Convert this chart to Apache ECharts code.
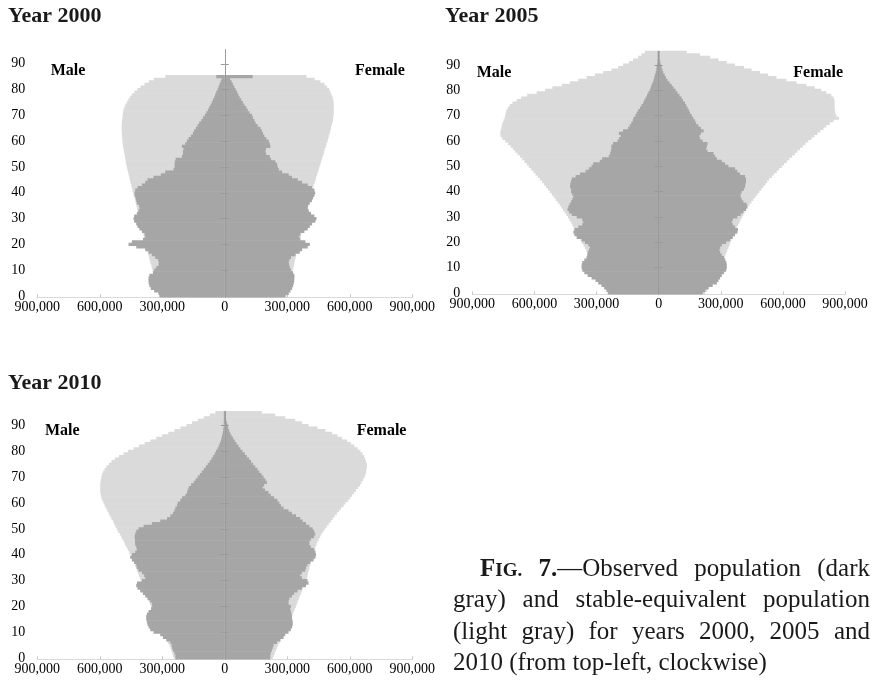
<!DOCTYPE html>
<html>
<head>
<meta charset="utf-8">
<script src="https://cdn.jsdelivr.net/npm/echarts@6/dist/echarts.min.js"></script>
<style>
  html, body { margin: 0; padding: 0; background: #fff; }
  #main { width: 873px; height: 684px; }
</style>
</head>
<body>
<div id="main"></div>
<script>
// Single-year age groups 0..95 (95 = open-ended top group)
const AGES = Array.from({ length: 96 }, (_, i) => String(i));
const AGE_TICKS = [0, 10, 20, 30, 40, 50, 60, 70, 80, 90];

// Population by single year of age, in thousands (age 0 first).
// "Stable" = stable-equivalent population, "Obs" = observed population.
const male2000Stable = [315,318,321,324,328,331,334,337,340,344, 347,350,353,357,360,363,366,369,372,376,
  379,382,385,388,391,394,397,400,403,406, 409,412,415,418,421,424,427,430,433,437,
  440,443,446,449,452,455,458,461,464,467, 470,473,475,477,479,481,484,486,488,490,
  491,492,493,494,495,495,495,494,493,491, 490,488,486,482,477,470,463,455,446,434,
  420,405,386,365,340,285];
const male2000Obs = [313,318,339,355,362,365,366,366,362,345, 339,329,318,317,320,334,350,366,382,425,
  462,446,393,382,385,398,410,419,425,435, 438,435,422,414,409,412,422,425,428,432,
  433,430,419,398,382,371,342,307,286,246, 241,241,240,236,206,201,201,198,206,190,
  182,174,163,153,147,139,131,123,113,105, 96,89,81,75,68,62,57,50,46,41,
  34,30,25,20,15,41];
const female2000Stable = [296,299,302,305,308,311,314,317,320,323, 326,329,332,334,337,340,343,346,349,352,
  355,358,361,364,367,370,373,376,379,382, 385,388,391,394,397,400,403,405,408,411,
  414,419,422,427,431,435,438,443,446,450, 454,458,462,466,469,474,477,480,485,488,
  493,496,499,503,506,509,512,515,519,520, 522,523,523,523,523,522,520,517,512,507,
  501,491,479,459,432,392];
const female2000Obs = [291,307,315,323,328,331,333,334,334,328, 318,312,309,307,310,318,339,360,371,398,
  408,387,363,357,363,382,398,408,419,435, 440,430,414,403,398,400,408,418,424,430,
  434,430,419,398,371,350,323,307,275,259, 254,251,243,222,216,199,195,198,219,216,
  211,199,190,183,178,171,158,148,142,135, 131,119,110,103,94,87,79,71,65,59,
  52,46,39,33,26,134];

const male2005Stable = [247,252,257,263,268,274,279,286,292,298, 305,311,318,324,330,337,343,350,356,363,
  371,377,385,391,398,404,411,417,423,431, 438,446,454,462,470,478,488,497,507,516,
  525,534,544,553,563,574,584,595,605,616, 627,637,648,659,670,682,693,704,715,728,
  741,754,763,765,763,760,757,754,749,744, 741,738,735,728,719,706,686,664,635,589,
  549,513,468,428,388,348,308,268,228,196, 172,144,124,99,83,67];
const male2005Obs = [244,252,263,276,292,305,324,343,359,369, 372,372,369,359,348,345,343,337,332,340,
  356,372,396,407,412,407,388,369,364,369, 396,420,433,440,436,430,423,417,412,417,
  423,423,428,427,423,420,401,380,353,337, 324,316,284,273,241,234,231,228,228,220,
  199,192,183,192,172,148,140,132,125,122, 112,106,99,90,83,75,69,63,56,50,
  43,38,34,29,24,21,18,14,11,10, 8,6,5,3,3,2];
const female2005Stable = [225,233,241,249,257,263,269,276,282,289, 294,300,306,313,318,322,327,332,337,342,
  346,351,356,361,366,371,377,383,390,396, 403,409,415,423,431,439,448,457,467,476,
  486,496,505,515,524,534,547,558,571,582, 595,606,619,632,645,658,670,683,696,709,
  723,738,752,767,781,796,810,826,845,871, 858,853,851,850,850,850,849,845,834,810,
  786,754,714,666,617,569,529,489,449,412, 369,329,289,249,200,136];
const female2005Obs = [213,225,241,261,281,289,297,305,316,326, 329,329,327,322,316,305,297,294,297,305,
  326,345,358,369,380,383,369,358,353,358, 380,396,409,422,428,425,409,401,396,396,
  401,412,417,419,422,422,417,393,380,369, 337,321,305,281,273,265,236,229,233,236,
  213,200,197,204,217,204,192,181,176,168, 160,152,146,140,133,127,117,111,101,91,
  82,72,63,53,43,35,29,22,18,14, 11,8,6,5,3,3];

const male2010Stable = [245,249,252,257,261,266,273,277,284,290, 297,302,308,314,321,327,334,340,345,350,
  354,359,364,369,374,379,383,388,393,398, 403,407,412,417,422,427,431,436,441,446,
  452,459,465,472,478,484,491,497,504,512, 518,525,531,537,544,550,557,563,569,576,
  582,587,592,595,597,598,598,598,597,595, 592,589,584,577,568,557,544,528,508,486,
  464,438,412,385,358,329,300,271,242,213, 184,157,130,101,72,45];
const male2010Obs = [237,237,242,249,253,255,261,281,297,310, 342,358,366,371,374,377,377,374,366,354,
  348,350,358,371,382,393,406,419,425,422, 398,382,387,398,414,422,425,435,446,454,
  446,430,422,425,430,431,431,433,430,425, 414,390,350,310,277,261,249,242,237,229,
  226,213,205,189,181,178,173,162,149,140, 130,120,111,101,91,82,72,64,56,48,
  42,35,29,24,19,16,13,10,8,6, 5,3,3,2,2,2];
const female2010Stable = [230,235,240,245,250,256,262,269,275,282, 288,294,301,307,312,317,322,326,331,336,
  341,346,350,355,360,365,370,374,379,384, 389,394,397,400,403,406,410,413,416,419,
  424,429,432,435,440,445,451,458,464,472, 480,490,499,509,518,528,538,549,558,570,
  579,592,602,611,621,630,640,650,656,664, 670,675,678,680,682,682,678,674,669,661,
  651,638,622,606,587,563,541,515,483,445, 402,370,338,290,242,178];
const female2010Obs = [218,218,221,226,230,234,250,266,282,290, 306,317,323,326,326,323,322,320,317,314,
  317,306,306,310,322,333,349,370,390,402, 397,370,362,370,386,390,397,410,426,435,
  438,435,429,413,406,406,413,429,434,429, 422,406,390,374,362,342,322,306,282,269,
  262,253,237,221,210,194,182,189,202,195, 186,176,166,157,146,136,126,117,106,96,
  85,75,66,56,48,40,32,26,21,16, 13,10,6,5,3,2];

const CAPTION_LINES = [
  'FIG. 7.—Observed population (dark',
  'gray) and stable-equivalent population',
  '(light gray) for years 2000, 2005 and',
  '2010 (from top-left, clockwise)'
];

const DARK = '#a6a6a6';
const LIGHT = '#dadada';
const AXIS_GRAY = '#9a9a9a';
const SERIF = '"Liberation Serif", "Times New Roman", serif';
const TEXT = '#1a1a1a';

const PANELS = [
  { title: 'Year 2000', titleX: 8, titleY: 16,
    grid: { left: 37.3, top: 49.6, width: 375, height: 247.7 },
    maleX: 50.7, femaleX: 355, sexY: 71,
    male: [male2000Stable, male2000Obs], female: [female2000Stable, female2000Obs] },
  { title: 'Year 2005', titleX: 445, titleY: 16,
    grid: { left: 472.3, top: 51.1, width: 372.7, height: 243.2 },
    maleX: 476.7, femaleX: 793.3, sexY: 73,
    male: [male2005Stable, male2005Obs], female: [female2005Stable, female2005Obs] },
  { title: 'Year 2010', titleX: 8, titleY: 383,
    grid: { left: 37.3, top: 411.3, width: 375, height: 248 },
    maleX: 45, femaleX: 356.7, sexY: 431,
    male: [male2010Stable, male2010Obs], female: [female2010Stable, female2010Obs] }
];

const grids = [], xAxes = [], yAxes = [], series = [], graphics = [];

PANELS.forEach((p, i) => {
  grids.push(Object.assign({ containLabel: false, outerBoundsMode: 'none' }, p.grid));

  // population axis (bottom)
  xAxes.push({
    gridIndex: i, type: 'value', min: -900000, max: 900000, interval: 300000,
    axisLine: { show: true, onZero: false, lineStyle: { color: LIGHT, width: 1 } },
    axisTick: { show: true, inside: true, length: 3, lineStyle: { color: '#c8c8c8' } },
    splitLine: { show: false },
    axisLabel: {
      formatter: v => Math.abs(v).toLocaleString('en-US'),
      fontFamily: SERIF, fontSize: 14, color: '#000', margin: 3
    }
  });
  // hidden twin, used only to anchor the mirrored age axis on zero
  xAxes.push({
    gridIndex: i, type: 'value', min: -900000, max: 900000, interval: 300000,
    show: false, position: 'top'
  });

  const tickOn = idx => idx > 0 && AGE_TICKS.includes(idx);
  // age labels along the left edge of the plot
  yAxes.push({
    gridIndex: i, type: 'category', data: AGES, position: 'left',
    axisLine: { show: false, onZero: false },
    axisTick: { show: false },
    axisLabel: {
      interval: idx => AGE_TICKS.includes(idx), margin: 12,
      fontFamily: SERIF, fontSize: 14, color: '#000'
    },
    splitLine: { show: false }, splitArea: { show: false }
  });
  // age axis line on the zero line, ticks to the left
  yAxes.push({
    gridIndex: i, type: 'category', data: AGES, position: 'left', z: 5,
    axisLine: { show: true, onZero: true, onZeroAxisIndex: 2 * i, lineStyle: { color: AXIS_GRAY, width: 1 } },
    axisTick: { show: true, alignWithLabel: true, interval: tickOn, length: 4, lineStyle: { color: AXIS_GRAY } },
    axisLabel: { show: false },
    splitLine: { show: false }, splitArea: { show: false }
  });
  // ticks to the right of the zero line
  yAxes.push({
    gridIndex: i, type: 'category', data: AGES, position: 'right', z: 5,
    axisLine: { show: false, onZero: true, onZeroAxisIndex: 2 * i + 1 },
    axisTick: { show: true, alignWithLabel: true, interval: tickOn, length: 4, lineStyle: { color: AXIS_GRAY } },
    axisLabel: { show: false },
    splitLine: { show: false }, splitArea: { show: false }
  });

  // bars slightly taller than a band so neighbouring ages merge into a solid shape
  const mk = (name, vals, sign, color) => ({
    name, type: 'bar', xAxisIndex: 2 * i, yAxisIndex: 3 * i,
    data: vals.map(v => sign * v * 1000),
    barWidth: '125%', barGap: '-100%', barCategoryGap: '0%',
    large: false,
    itemStyle: { color, borderColor: color, borderWidth: 1.5, opacity: 1 }, silent: true
  });
  series.push(mk('Male stable', p.male[0], -1, LIGHT));
  series.push(mk('Female stable', p.female[0], 1, LIGHT));
  series.push(mk('Male observed', p.male[1], -1, DARK));
  series.push(mk('Female observed', p.female[1], 1, DARK));

  graphics.push({ type: 'text', x: p.titleX, y: p.titleY,
    style: { text: p.title, font: 'bold 22px ' + SERIF, fill: TEXT, textVerticalAlign: 'middle', verticalAlign: 'middle' } });
  graphics.push({ type: 'text', x: p.maleX, y: p.sexY,
    style: { text: 'Male', font: 'bold 16px ' + SERIF, fill: '#000', textVerticalAlign: 'middle', verticalAlign: 'middle' } });
  graphics.push({ type: 'text', x: p.femaleX, y: p.sexY,
    style: { text: 'Female', font: 'bold 16px ' + SERIF, fill: '#000', textVerticalAlign: 'middle', verticalAlign: 'middle' } });
});

// Caption: justified lines, first word set in bold small caps
const CAP_SIZE = 25, SMALL_SIZE = 19;
const FONTS = {
  r: CAP_SIZE + 'px ' + SERIF,
  b: 'bold ' + CAP_SIZE + 'px ' + SERIF,
  s: 'bold ' + SMALL_SIZE + 'px ' + SERIF
};
const SIZES = { r: CAP_SIZE, b: CAP_SIZE, s: SMALL_SIZE };
const measureCtx = document.createElement('canvas').getContext('2d');
const measure = (t, f) => { measureCtx.font = f; return measureCtx.measureText(t).width; };

function pieces(lineIdx, wordIdx, word) {
  if (lineIdx === 0 && wordIdx === 0) return [['F', 'b'], ['IG.', 's']];
  if (lineIdx === 0 && wordIdx === 1) return [['7.', 'b'], ['—Observed', 'r']];
  return [[word, 'r']];
}

const CAP_RIGHT = 870, CAP_LEFT = 453, CAP_INDENT = 480;
const CAP_BASELINES = [577.5, 609, 640.5, 672];
CAPTION_LINES.forEach((line, li) => {
  const words = line.split(' ').map((w, wi) => {
    const ps = pieces(li, wi, w);
    return { ps, width: ps.reduce((s, [t, k]) => s + measure(t, FONTS[k]), 0) };
  });
  const left = li === 0 ? CAP_INDENT : CAP_LEFT;
  const total = words.reduce((s, w) => s + w.width, 0);
  const justify = li < CAPTION_LINES.length - 1;
  const gap = justify ? (CAP_RIGHT - left - total) / (words.length - 1) : measure(' ', FONTS.r);
  let x = left;
  words.forEach(w => {
    w.ps.forEach(([t, k]) => {
      const size = SIZES[k];
      graphics.push({ type: 'text', x, y: CAP_BASELINES[li] - 0.3375 * size,
        style: { text: t, font: FONTS[k], fill: TEXT, textVerticalAlign: 'middle', verticalAlign: 'middle' } });
      x += measure(t, FONTS[k]);
    });
    x += gap;
  });
});

const chart = echarts.init(document.getElementById('main'), null, { renderer: 'canvas' });
chart.setOption({
  animation: false,
  backgroundColor: '#fff',
  grid: grids,
  xAxis: xAxes,
  yAxis: yAxes,
  series,
  graphic: graphics
});
</script>
</body>
</html>
